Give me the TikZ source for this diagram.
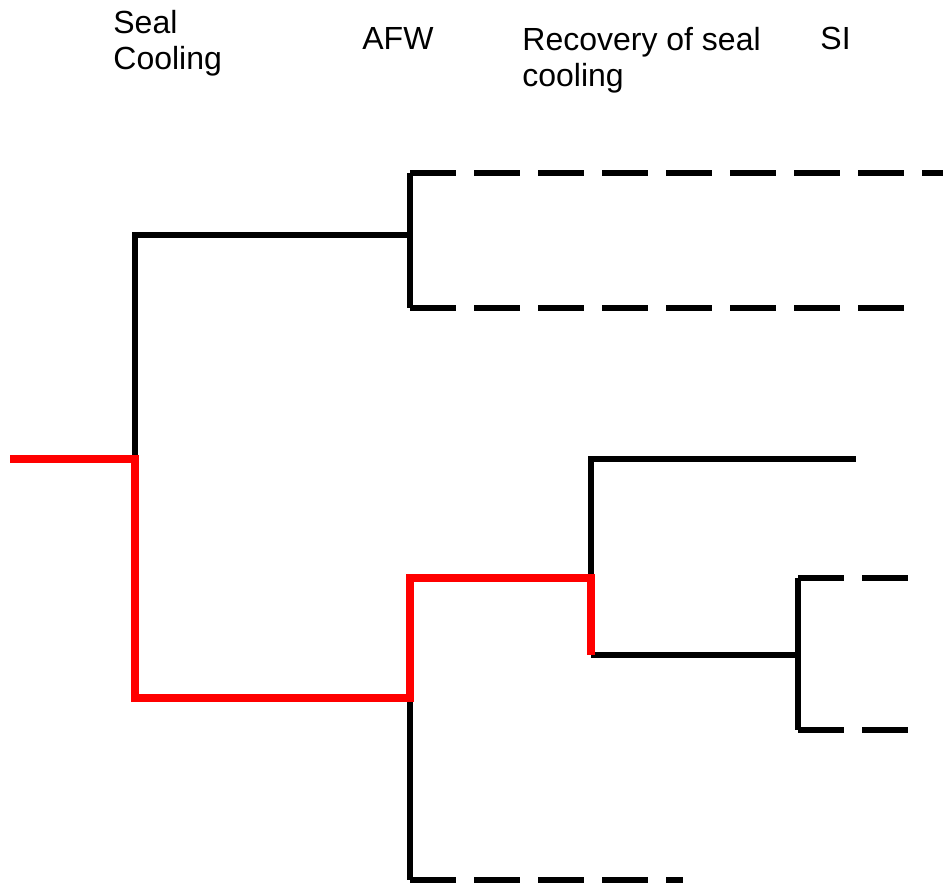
\documentclass[tikz,border=0pt]{standalone}
\usepackage{fontspec}
\setmainfont{Liberation Sans}
\usetikzlibrary{positioning}

\begin{document}
\begin{tikzpicture}[x=0.5pt,y=-0.5pt,
		branch/.style={line width=3.3pt},
		path/.style={branch, line width=3.6pt, color=red},
		cut/.style={branch, dash pattern=on 23pt off 9pt},
		head/.style={anchor=north west, inner sep=0pt, align=left, font=\fontsize{16}{18}\selectfont}]
		\useasboundingbox (0,0) rectangle (943,884);
		% headings
		\node[head] (hsc) at (113,10) {Seal\\Cooling};
		\node[head] (hafw) at (362,27) {AFW};
		\node[head] (hrec) at (522,27) {Recovery of seal\\cooling};
		\node[head] (hsi) at (820,27) {SI};
		% branch points
		\coordinate (start) at (10,459);
		\coordinate (sc) at (135,459);
		\coordinate (scU) at (135,235);
		\coordinate (scD) at (135,698);
		\coordinate (afwU) at (410,235);
		\coordinate (afwUt) at (410,173);
		\coordinate (afwUb) at (410,308);
		\coordinate (endUt) at (943,173);
		\coordinate (endUb) at (922,308);
		\coordinate (afwD) at (410,698);
		\coordinate (afwDt) at (410,578);
		\coordinate (afwDb) at (410,880);
		\coordinate (endDb) at (683,880);
		\coordinate (rc) at (591,578);
		\coordinate (rcU) at (591,459);
		\coordinate (rcD) at (591,655);
		\coordinate (endRU) at (856,459);
		\coordinate (si) at (798,655);
		\coordinate (siT) at (798,578);
		\coordinate (siB) at (798,730);
		\coordinate (endSIt) at (911,578);
		\coordinate (endSIb) at (913,730);
		% black branches
		\draw[branch] (sc) -- (scU) -- (afwU);
		\draw[branch] (afwUt) -- (afwUb);
		\draw[cut] (afwUt) -- (endUt);
		\draw[cut] (afwUb) -- (endUb);
		\draw[branch] (afwD) -- (afwDb);
		\draw[cut] (afwDb) -- (endDb);
		\draw[branch] (rc) -- (rcU) -- (endRU);
		\draw[branch] (rcD) -- (si);
		\draw[branch] (siT) -- (siB);
		\draw[cut] (siT) -- (endSIt);
		\draw[cut] (siB) -- (endSIb);
		% red sequence
		\draw[path] (start) -- (sc) -- (scD) -- (afwD) -- (afwDt) -- (rc) -- (rcD);
	\end{tikzpicture}
\end{document}
